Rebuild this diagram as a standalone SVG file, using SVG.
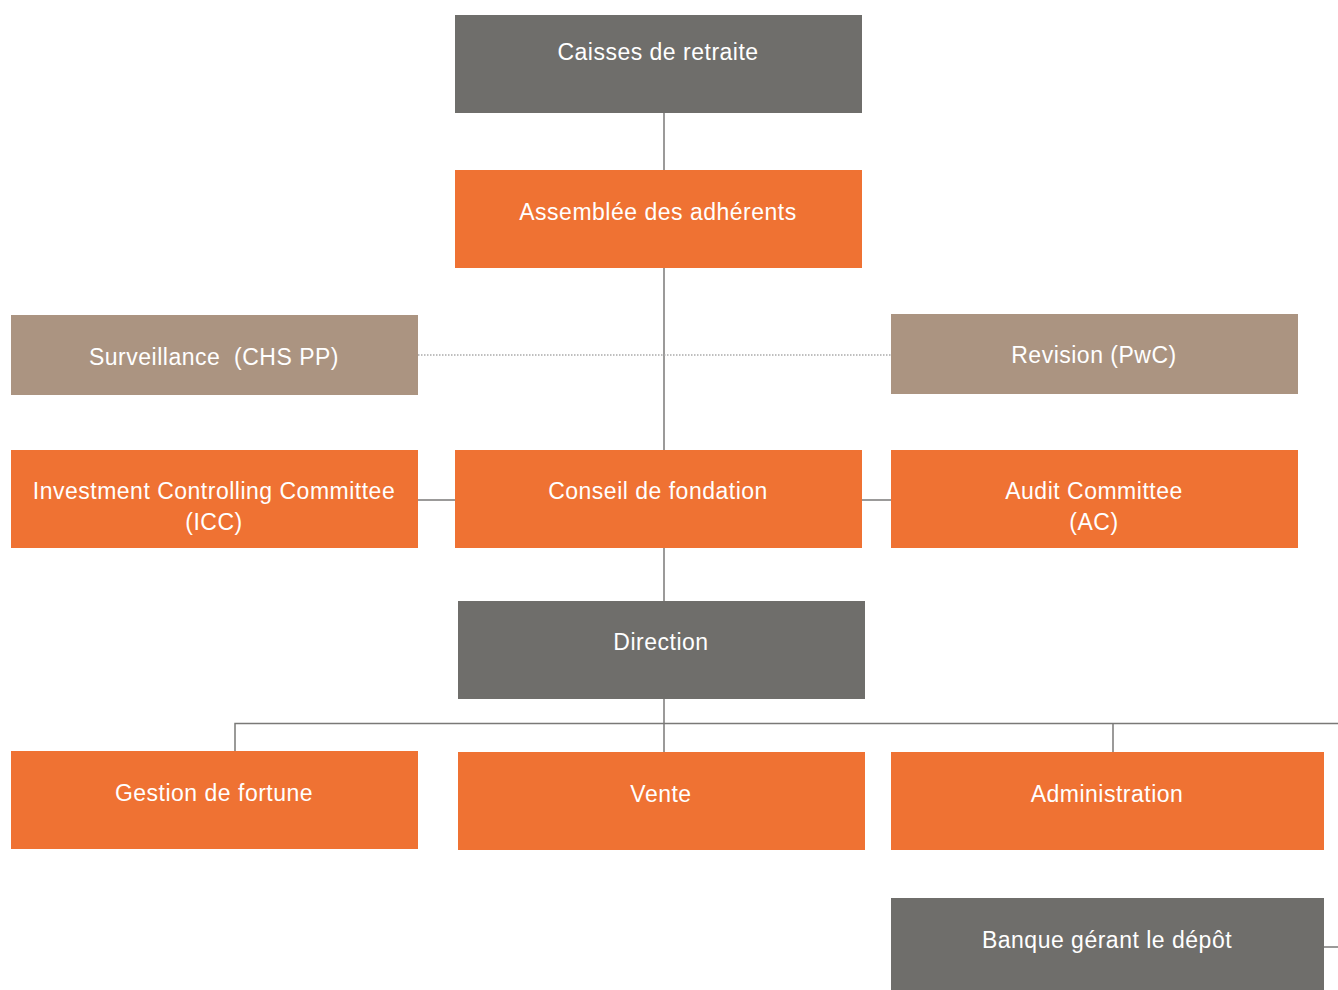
<svg xmlns="http://www.w3.org/2000/svg" width="1338" height="990" viewBox="0 0 1338 990">
<style>
.g{fill:#6f6e6b}.o{fill:#ef7233}.t{fill:#ab9481}
text{font-family:"Liberation Sans",Arial,sans-serif;font-size:23px;letter-spacing:0.5px;fill:#ffffff;text-anchor:middle}
.c{stroke:#7a7977;stroke-width:1.5;fill:none}
.d{stroke:#aaaaaa;stroke-width:1.5;stroke-dasharray:1.5 1.5;fill:none}
</style>
<rect width="1338" height="990" fill="#ffffff"/>
<g id="connectors">
<line class="c" x1="664" y1="113" x2="664" y2="170"/>
<line class="c" x1="664" y1="268" x2="664" y2="450"/>
<line class="d" x1="418" y1="355" x2="891" y2="355"/>
<line class="c" x1="418" y1="500" x2="455" y2="500"/>
<line class="c" x1="862" y1="500" x2="891" y2="500"/>
<line class="c" x1="664" y1="548" x2="664" y2="601"/>
<line class="c" x1="664" y1="699" x2="664" y2="752"/>
<polyline class="c" points="235,751 235,723.5 1338,723.5"/>
<line class="c" x1="1113" y1="723" x2="1113" y2="752"/>
<line class="c" x1="1324" y1="947" x2="1338" y2="947"/>
</g>
<g id="caisses"><rect class="g" x="455" y="15" width="407" height="98"/><text x="658" y="60">Caisses de retraite</text></g>
<g id="assemblee"><rect class="o" x="455" y="170" width="407" height="98"/><text x="658" y="220">Assemblée des adhérents</text></g>
<g id="surveillance"><rect class="t" x="11" y="315" width="407" height="80"/><text x="214" y="365" xml:space="preserve">Surveillance  (CHS PP)</text></g>
<g id="revision"><rect class="t" x="891" y="314" width="407" height="80"/><text x="1094" y="363">Revision (PwC)</text></g>
<g id="icc"><rect class="o" x="11" y="450" width="407" height="98"/><text x="214" y="499">Investment Controlling Committee</text><text x="214" y="530">(ICC)</text></g>
<g id="conseil"><rect class="o" x="455" y="450" width="407" height="98"/><text x="658" y="499">Conseil de fondation</text></g>
<g id="ac"><rect class="o" x="891" y="450" width="407" height="98"/><text x="1094" y="499">Audit Committee</text><text x="1094" y="530">(AC)</text></g>
<g id="direction"><rect class="g" x="458" y="601" width="407" height="98"/><text x="661" y="650">Direction</text></g>
<g id="gestion"><rect class="o" x="11" y="751" width="407" height="98"/><text x="214" y="801">Gestion de fortune</text></g>
<g id="vente"><rect class="o" x="458" y="752" width="407" height="98"/><text x="661" y="802">Vente</text></g>
<g id="administration"><rect class="o" x="891" y="752" width="433" height="98"/><text x="1107" y="802">Administration</text></g>
<g id="banque"><rect class="g" x="891" y="898" width="433" height="92"/><text x="1107" y="948">Banque gérant le dépôt</text></g>
</svg>
